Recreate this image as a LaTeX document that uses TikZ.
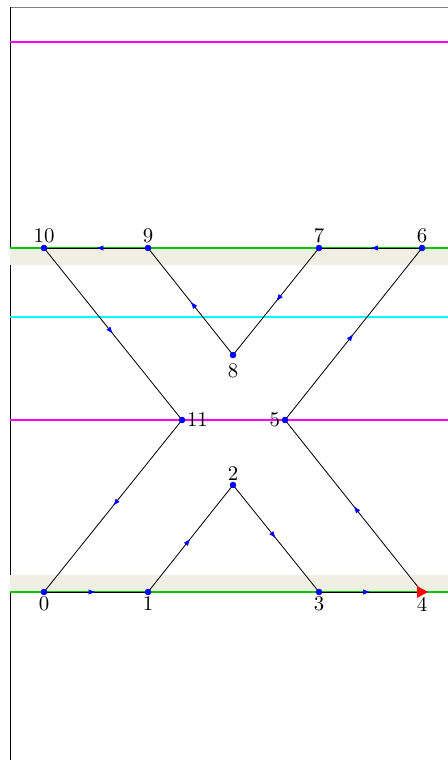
\documentclass[tikz,border=0pt]{standalone}
\usepackage{xcolor}
\usepackage{tikz}
\usetikzlibrary{positioning, calc, arrows.meta, decorations.markings}

\definecolor{bandfill}{RGB}{240,239,227}
\definecolor{levelgreen}{RGB}{0,200,0}
\definecolor{levelmagenta}{RGB}{255,0,255}
\definecolor{levelcyan}{RGB}{0,255,255}
\definecolor{dotblue}{RGB}{0,0,255}

\begin{document}
\begin{tikzpicture}[
    x=0.48pt, y=-0.48pt,
    every label/.style={inner sep=0.5pt},
    label distance=0pt,
    vertex/.style={circle, fill=dotblue, inner sep=0pt, minimum size=3pt},
    edge/.style={draw, black, postaction={decorate}, decoration={markings,
        mark=at position 0.5 with {\arrow[dotblue]{Latex[length=3.5pt,width=2.5pt]}}}},
    level/.style={line width=0.7pt}
]
\useasboundingbox (0,0) rectangle (448,760);

% Frame
\draw[gray] (10,7) -- (448,7);
\draw (10,7) -- (10,760);

% Bands
\fill[bandfill] (10,248) rectangle (448,265);
\fill[bandfill] (10,575) rectangle (448,592);

% Levels
\draw[level, levelmagenta] (10,42) -- (448,42);
\draw[level, levelgreen] (10,248) -- (448,248);
\draw[level, levelcyan] (10,317) -- (448,317);
\draw[level, levelmagenta] (10,420) -- (448,420);
\draw[level, levelgreen] (10,592) -- (448,592);

% Vertices
\node[vertex, label=below:0] (p0) at (44,592) {};
\node[vertex, label=below:1] (p1) at (148,592) {};
\node[vertex, label=above:2] (p2) at (233,485) {};
\node[vertex, label=below:3] (p3) at (319,592) {};
\coordinate[label={[label distance=2pt]below:4}] (p4) at (422,592);
\node[vertex, label=left:5] (p5) at (285,420) {};
\node[vertex, label=above:6] (p6) at (422,248) {};
\node[vertex, label=above:7] (p7) at (319,248) {};
\node[vertex, label={[label distance=1.5pt]below:8}] (p8) at (233,355) {};
\node[vertex, label=above:9] (p9) at (148,248) {};
\node[vertex, label=above:10] (p10) at (44,248) {};
\node[vertex, label=right:11] (p11) at (182,420) {};

% Edges
\draw[edge] (p0.center) -- (p1.center);
\draw[edge] (p1.center) -- (p2.center);
\draw[edge] (p2.center) -- (p3.center);
\draw[edge] (p3.center) -- (p4);
\draw[edge] (p4) -- (p5.center);
\draw[edge] (p5.center) -- (p6.center);
\draw[edge] (p6.center) -- (p7.center);
\draw[edge] (p7.center) -- (p8.center);
\draw[edge] (p8.center) -- (p9.center);
\draw[edge] (p9.center) -- (p10.center);
\draw[edge] (p10.center) -- (p11.center);
\draw[edge] (p11.center) -- (p0.center);

% Redraw dots on top
\foreach \p in {p0,p1,p2,p3,p5,p6,p7,p8,p9,p10,p11}
    \fill[dotblue] (\p) circle (1.5pt);

% Start marker
\fill[red] ($(p4)+(-5,-6)$) -- ($(p4)+(6,0)$) -- ($(p4)+(-5,6)$) -- cycle;

\end{tikzpicture}
\end{document}
